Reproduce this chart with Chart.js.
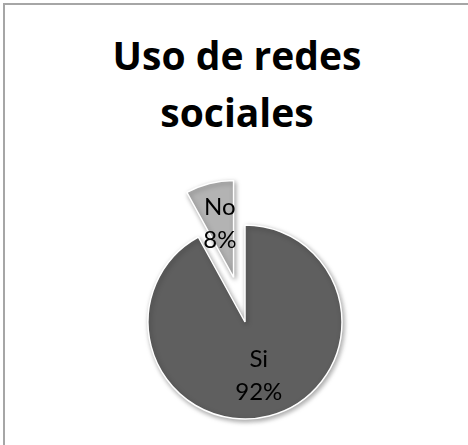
<!DOCTYPE html>
<html>
<head>
<meta charset="utf-8">
<script src="https://cdn.jsdelivr.net/npm/chart.js@4/dist/chart.umd.min.js"></script>
<style>
  html, body { margin: 0; padding: 0; background: #fff; }
  #wrap { position: relative; width: 468px; height: 445px; overflow: hidden; }
  #frame { position: absolute; left: 3px; top: 3px; right: -10px; bottom: -10px;
           border-left: 2px solid #a6a6a6; border-top: 2px solid #a6a6a6; }
  #title { position: absolute; left: 0; width: 474px; top: 26px; text-align: center;
           font: bold 39px "Open Sans", sans-serif; line-height: 57px; color: #000; }
  #plot { position: absolute; left: 0; top: 0; width: 468px; height: 445px; }
</style>
</head>
<body>
<div id="wrap">
  <div id="frame"></div>
  <div id="title">Uso de redes<br>sociales</div>
  <div id="plot"><canvas id="c" width="468" height="445"></canvas></div>
</div>
<script>
// Survey answers and their share of respondents
const labels = ['Si', 'No'];
const values = [92, 8];

// Slice styling
const sliceColors = ['#5f5f5f', '#b3b3b3'];
const explodedSlice = 1;     // the "No" slice is pulled out of the pie
const explodeDistance = 46;  // px
const labelRadius = 0.57;    // label position as a fraction of the radius

// Pulls one slice outward along its bisector, adds the soft drop shadow
// and writes "category / percent" labels inside each slice.
const pieExtras = {
  id: 'pieExtras',
  afterDatasetsUpdate(chart) {
    const arc = chart.getDatasetMeta(0).data[explodedSlice];
    const mid = (arc.startAngle + arc.endAngle) / 2;
    arc.x += Math.cos(mid) * explodeDistance;
    arc.y += Math.sin(mid) * explodeDistance;
  },
  beforeDatasetsDraw(chart) {
    const ctx = chart.ctx;
    ctx.save();
    ctx.shadowColor = 'rgba(0,0,0,0.35)';
    ctx.shadowBlur = 5;
    ctx.shadowOffsetX = 1.5;
    ctx.shadowOffsetY = 2;
  },
  afterDatasetsDraw(chart) {
    const ctx = chart.ctx;
    ctx.restore();
    const total = values.reduce((a, b) => a + b, 0);
    ctx.save();
    ctx.fillStyle = '#000';
    ctx.font = '24px Lato, sans-serif';
    ctx.textAlign = 'center';
    ctx.textBaseline = 'middle';
    chart.getDatasetMeta(0).data.forEach((arc, i) => {
      const mid = (arc.startAngle + arc.endAngle) / 2;
      const r = arc.outerRadius * labelRadius;
      const x = arc.x + Math.cos(mid) * r;
      const y = arc.y + Math.sin(mid) * r;
      const pct = Math.round(values[i] / total * 100) + '%';
      ctx.fillText(labels[i], x, y - 16.5);
      ctx.fillText(pct, x, y + 16.5);
    });
    ctx.restore();
  }
};

function draw() {
  new Chart(document.getElementById('c'), {
    type: 'pie',
    data: {
      labels: labels,
      datasets: [{
        data: values,
        backgroundColor: sliceColors,
        borderColor: '#ffffff',
        borderWidth: 1.5
      }]
    },
    options: {
      responsive: false,
      animation: false,
      devicePixelRatio: 1,
      radius: 97,
      layout: { padding: { left: 22, right: 0, top: 199, bottom: 0 } },
      plugins: {
        legend: { display: false },
        tooltip: { enabled: false },
        title: { display: false }
      },
      events: []
    },
    plugins: [pieExtras]
  });
}

if (document.fonts && document.fonts.load) {
  Promise.all([document.fonts.load('24px Lato'), document.fonts.load('bold 39px "Open Sans"')]).then(draw, draw);
} else {
  draw();
}
</script>
</body>
</html>
